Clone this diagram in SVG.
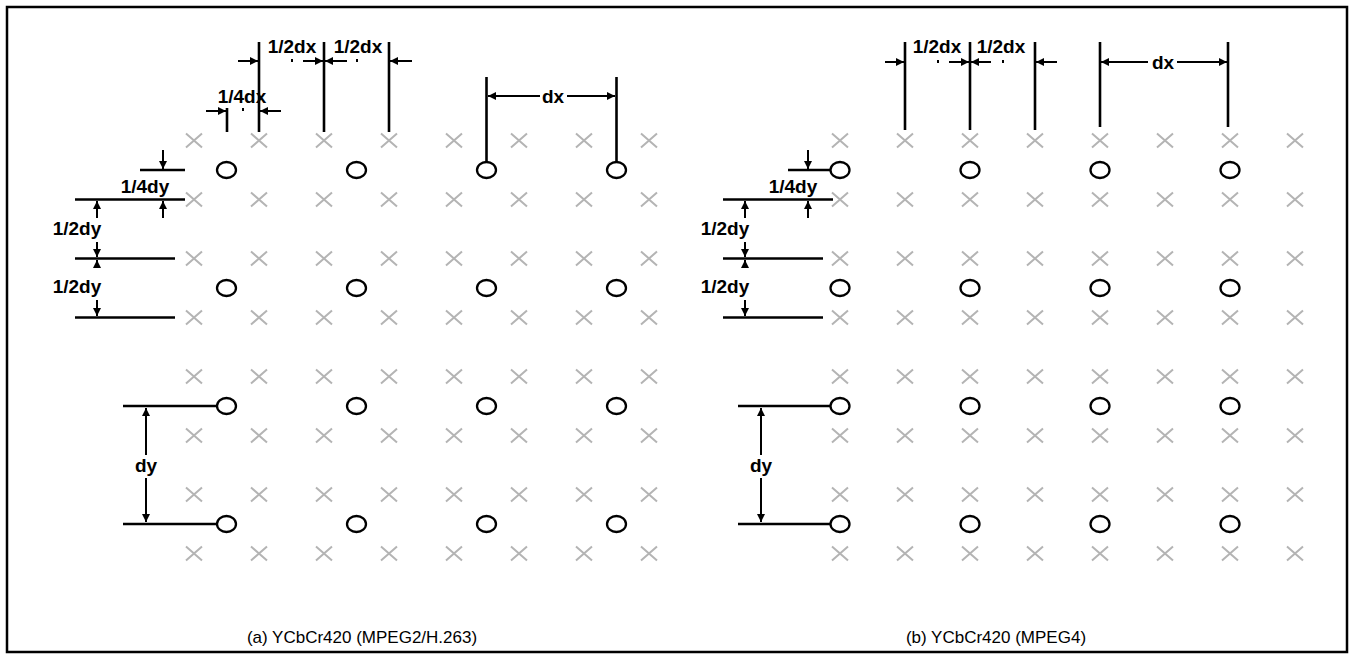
<svg xmlns="http://www.w3.org/2000/svg" width="1354" height="659" viewBox="0 0 1354 659">
<defs>
<style>
.frame{fill:none;stroke:#000;stroke-width:2.5}
.x{stroke:#b4b4b4;stroke-width:2;fill:none}
.o{fill:none;stroke:#000;stroke-width:2.3}
.dim{stroke:#000;stroke-width:2.6;fill:none}
.ar{stroke:#000;stroke-width:2;fill:none}
.lbl{font-family:"Liberation Sans",Arial,sans-serif;font-weight:bold;font-size:19px;fill:#000}
.cap{font-family:"Liberation Sans",Arial,sans-serif;font-size:17px;fill:#000}
</style>
<marker id="ah" viewBox="0 0 10 10" refX="10" refY="5" markerWidth="9" markerHeight="8" markerUnits="userSpaceOnUse" orient="auto">
<path d="M0,0 L10,5 L0,10 z" fill="#000"/>
</marker>
<path id="cx" d="M-8,-7 L8,7 M-8,7 L8,-7"/>
</defs>
<rect class="frame" x="7" y="7" width="1340" height="645"/>

<g id="grid-a">
<g class="x">
<use href="#cx" x="194" y="140.5"/><use href="#cx" x="259" y="140.5"/><use href="#cx" x="324" y="140.5"/><use href="#cx" x="389" y="140.5"/><use href="#cx" x="454" y="140.5"/><use href="#cx" x="519" y="140.5"/><use href="#cx" x="584" y="140.5"/><use href="#cx" x="649" y="140.5"/>
<use href="#cx" x="194" y="199.5"/><use href="#cx" x="259" y="199.5"/><use href="#cx" x="324" y="199.5"/><use href="#cx" x="389" y="199.5"/><use href="#cx" x="454" y="199.5"/><use href="#cx" x="519" y="199.5"/><use href="#cx" x="584" y="199.5"/><use href="#cx" x="649" y="199.5"/>
<use href="#cx" x="194" y="258.5"/><use href="#cx" x="259" y="258.5"/><use href="#cx" x="324" y="258.5"/><use href="#cx" x="389" y="258.5"/><use href="#cx" x="454" y="258.5"/><use href="#cx" x="519" y="258.5"/><use href="#cx" x="584" y="258.5"/><use href="#cx" x="649" y="258.5"/>
<use href="#cx" x="194" y="317.5"/><use href="#cx" x="259" y="317.5"/><use href="#cx" x="324" y="317.5"/><use href="#cx" x="389" y="317.5"/><use href="#cx" x="454" y="317.5"/><use href="#cx" x="519" y="317.5"/><use href="#cx" x="584" y="317.5"/><use href="#cx" x="649" y="317.5"/>
<use href="#cx" x="194" y="376.5"/><use href="#cx" x="259" y="376.5"/><use href="#cx" x="324" y="376.5"/><use href="#cx" x="389" y="376.5"/><use href="#cx" x="454" y="376.5"/><use href="#cx" x="519" y="376.5"/><use href="#cx" x="584" y="376.5"/><use href="#cx" x="649" y="376.5"/>
<use href="#cx" x="194" y="435.5"/><use href="#cx" x="259" y="435.5"/><use href="#cx" x="324" y="435.5"/><use href="#cx" x="389" y="435.5"/><use href="#cx" x="454" y="435.5"/><use href="#cx" x="519" y="435.5"/><use href="#cx" x="584" y="435.5"/><use href="#cx" x="649" y="435.5"/>
<use href="#cx" x="194" y="494.5"/><use href="#cx" x="259" y="494.5"/><use href="#cx" x="324" y="494.5"/><use href="#cx" x="389" y="494.5"/><use href="#cx" x="454" y="494.5"/><use href="#cx" x="519" y="494.5"/><use href="#cx" x="584" y="494.5"/><use href="#cx" x="649" y="494.5"/>
<use href="#cx" x="194" y="553.5"/><use href="#cx" x="259" y="553.5"/><use href="#cx" x="324" y="553.5"/><use href="#cx" x="389" y="553.5"/><use href="#cx" x="454" y="553.5"/><use href="#cx" x="519" y="553.5"/><use href="#cx" x="584" y="553.5"/><use href="#cx" x="649" y="553.5"/>
</g>
<g class="o">
<ellipse cx="226.5" cy="170" rx="9.5" ry="8"/><ellipse cx="356.5" cy="170" rx="9.5" ry="8"/><ellipse cx="486.5" cy="170" rx="9.5" ry="8"/><ellipse cx="616.5" cy="170" rx="9.5" ry="8"/>
<ellipse cx="226.5" cy="288" rx="9.5" ry="8"/><ellipse cx="356.5" cy="288" rx="9.5" ry="8"/><ellipse cx="486.5" cy="288" rx="9.5" ry="8"/><ellipse cx="616.5" cy="288" rx="9.5" ry="8"/>
<ellipse cx="226.5" cy="406" rx="9.5" ry="8"/><ellipse cx="356.5" cy="406" rx="9.5" ry="8"/><ellipse cx="486.5" cy="406" rx="9.5" ry="8"/><ellipse cx="616.5" cy="406" rx="9.5" ry="8"/>
<ellipse cx="226.5" cy="524" rx="9.5" ry="8"/><ellipse cx="356.5" cy="524" rx="9.5" ry="8"/><ellipse cx="486.5" cy="524" rx="9.5" ry="8"/><ellipse cx="616.5" cy="524" rx="9.5" ry="8"/>
</g>
</g>

<g id="grid-b">
<g class="x">
<use href="#cx" x="840" y="140.5"/><use href="#cx" x="905" y="140.5"/><use href="#cx" x="970" y="140.5"/><use href="#cx" x="1035" y="140.5"/><use href="#cx" x="1100" y="140.5"/><use href="#cx" x="1165" y="140.5"/><use href="#cx" x="1230" y="140.5"/><use href="#cx" x="1295" y="140.5"/>
<use href="#cx" x="840" y="199.5"/><use href="#cx" x="905" y="199.5"/><use href="#cx" x="970" y="199.5"/><use href="#cx" x="1035" y="199.5"/><use href="#cx" x="1100" y="199.5"/><use href="#cx" x="1165" y="199.5"/><use href="#cx" x="1230" y="199.5"/><use href="#cx" x="1295" y="199.5"/>
<use href="#cx" x="840" y="258.5"/><use href="#cx" x="905" y="258.5"/><use href="#cx" x="970" y="258.5"/><use href="#cx" x="1035" y="258.5"/><use href="#cx" x="1100" y="258.5"/><use href="#cx" x="1165" y="258.5"/><use href="#cx" x="1230" y="258.5"/><use href="#cx" x="1295" y="258.5"/>
<use href="#cx" x="840" y="317.5"/><use href="#cx" x="905" y="317.5"/><use href="#cx" x="970" y="317.5"/><use href="#cx" x="1035" y="317.5"/><use href="#cx" x="1100" y="317.5"/><use href="#cx" x="1165" y="317.5"/><use href="#cx" x="1230" y="317.5"/><use href="#cx" x="1295" y="317.5"/>
<use href="#cx" x="840" y="376.5"/><use href="#cx" x="905" y="376.5"/><use href="#cx" x="970" y="376.5"/><use href="#cx" x="1035" y="376.5"/><use href="#cx" x="1100" y="376.5"/><use href="#cx" x="1165" y="376.5"/><use href="#cx" x="1230" y="376.5"/><use href="#cx" x="1295" y="376.5"/>
<use href="#cx" x="840" y="435.5"/><use href="#cx" x="905" y="435.5"/><use href="#cx" x="970" y="435.5"/><use href="#cx" x="1035" y="435.5"/><use href="#cx" x="1100" y="435.5"/><use href="#cx" x="1165" y="435.5"/><use href="#cx" x="1230" y="435.5"/><use href="#cx" x="1295" y="435.5"/>
<use href="#cx" x="840" y="494.5"/><use href="#cx" x="905" y="494.5"/><use href="#cx" x="970" y="494.5"/><use href="#cx" x="1035" y="494.5"/><use href="#cx" x="1100" y="494.5"/><use href="#cx" x="1165" y="494.5"/><use href="#cx" x="1230" y="494.5"/><use href="#cx" x="1295" y="494.5"/>
<use href="#cx" x="840" y="553.5"/><use href="#cx" x="905" y="553.5"/><use href="#cx" x="970" y="553.5"/><use href="#cx" x="1035" y="553.5"/><use href="#cx" x="1100" y="553.5"/><use href="#cx" x="1165" y="553.5"/><use href="#cx" x="1230" y="553.5"/><use href="#cx" x="1295" y="553.5"/>
</g>
<g class="o">
<ellipse cx="840" cy="170" rx="9.5" ry="8"/><ellipse cx="970" cy="170" rx="9.5" ry="8"/><ellipse cx="1100" cy="170" rx="9.5" ry="8"/><ellipse cx="1230" cy="170" rx="9.5" ry="8"/>
<ellipse cx="840" cy="288" rx="9.5" ry="8"/><ellipse cx="970" cy="288" rx="9.5" ry="8"/><ellipse cx="1100" cy="288" rx="9.5" ry="8"/><ellipse cx="1230" cy="288" rx="9.5" ry="8"/>
<ellipse cx="840" cy="406" rx="9.5" ry="8"/><ellipse cx="970" cy="406" rx="9.5" ry="8"/><ellipse cx="1100" cy="406" rx="9.5" ry="8"/><ellipse cx="1230" cy="406" rx="9.5" ry="8"/>
<ellipse cx="840" cy="524" rx="9.5" ry="8"/><ellipse cx="970" cy="524" rx="9.5" ry="8"/><ellipse cx="1100" cy="524" rx="9.5" ry="8"/><ellipse cx="1230" cy="524" rx="9.5" ry="8"/>
</g>
</g>

<g id="connectors">
<g class="dim">
<line x1="227" y1="108" x2="227" y2="132"/>
<line x1="259" y1="42" x2="259" y2="132"/>
<line x1="324" y1="42" x2="324" y2="132"/>
<line x1="389" y1="42" x2="389" y2="132"/>
<line x1="486.5" y1="77" x2="486.5" y2="162"/>
<line x1="616.5" y1="77" x2="616.5" y2="162"/>
<line x1="140" y1="170" x2="185" y2="170"/>
<line x1="75" y1="199.5" x2="185" y2="199.5"/>
<line x1="75" y1="258.5" x2="175" y2="258.5"/>
<line x1="75" y1="317.5" x2="175" y2="317.5"/>
<line x1="123" y1="406" x2="217" y2="406"/>
<line x1="123" y1="524" x2="217" y2="524"/>
</g>
<g class="ar" marker-end="url(#ah)">
<line x1="238" y1="61" x2="258" y2="61"/>
<line x1="303" y1="61" x2="323" y2="61"/>
<line x1="347" y1="61" x2="325" y2="61"/>
<line x1="412" y1="61" x2="390" y2="61"/>
<line x1="206" y1="111" x2="226" y2="111"/>
<line x1="281" y1="111" x2="260" y2="111"/>
<line x1="540" y1="96" x2="488" y2="96"/>
<line x1="567" y1="96" x2="615" y2="96"/>
<line x1="163" y1="150" x2="163" y2="169"/>
<line x1="163" y1="218" x2="163" y2="201"/>
<line x1="97" y1="218" x2="97" y2="201"/>
<line x1="97" y1="242" x2="97" y2="257"/>
<line x1="97" y1="268" x2="97" y2="260"/>
<line x1="97" y1="300" x2="97" y2="316"/>
<line x1="146" y1="455" x2="146" y2="408"/>
<line x1="146" y1="478" x2="146" y2="522"/>
</g>
<g fill="#000">
<rect x="291" y="59" width="2" height="3"/>
<rect x="356" y="59" width="2" height="3"/>
<rect x="242" y="108" width="2" height="3"/>
<rect x="937" y="60" width="2" height="3"/>
<rect x="1002" y="60" width="2" height="3"/>
</g>
<g class="dim">
<line x1="905" y1="42" x2="905" y2="130"/>
<line x1="970" y1="42" x2="970" y2="130"/>
<line x1="1035" y1="42" x2="1035" y2="130"/>
<line x1="1100" y1="42" x2="1100" y2="127"/>
<line x1="1228" y1="42" x2="1228" y2="127"/>
<line x1="788" y1="170" x2="830" y2="170"/>
<line x1="723" y1="199.5" x2="833" y2="199.5"/>
<line x1="723" y1="258.5" x2="823" y2="258.5"/>
<line x1="723" y1="317.5" x2="823" y2="317.5"/>
<line x1="738" y1="406" x2="830" y2="406"/>
<line x1="738" y1="524" x2="830" y2="524"/>
</g>
<g class="ar" marker-end="url(#ah)">
<line x1="885" y1="62" x2="904" y2="62"/>
<line x1="949" y1="62" x2="969" y2="62"/>
<line x1="991" y1="62" x2="971" y2="62"/>
<line x1="1057" y1="62" x2="1036" y2="62"/>
<line x1="1148" y1="62" x2="1101" y2="62"/>
<line x1="1177" y1="62" x2="1227" y2="62"/>
<line x1="808" y1="150" x2="808" y2="169"/>
<line x1="808" y1="218" x2="808" y2="201"/>
<line x1="745" y1="218" x2="745" y2="201"/>
<line x1="745" y1="242" x2="745" y2="257"/>
<line x1="745" y1="268" x2="745" y2="260"/>
<line x1="745" y1="300" x2="745" y2="316"/>
<line x1="761" y1="455" x2="761" y2="408"/>
<line x1="761" y1="478" x2="761" y2="522"/>
</g>
</g>

<g id="labels-a">
<text class="lbl" x="292" y="53" text-anchor="middle">1/2dx</text>
<text class="lbl" x="358" y="53" text-anchor="middle">1/2dx</text>
<text class="lbl" x="242" y="103" text-anchor="middle">1/4dx</text>
<text class="lbl" x="553" y="103" text-anchor="middle">dx</text>
<text class="lbl" x="145" y="193" text-anchor="middle">1/4dy</text>
<text class="lbl" x="77" y="235" text-anchor="middle">1/2dy</text>
<text class="lbl" x="77" y="293" text-anchor="middle">1/2dy</text>
<text class="lbl" x="146" y="472" text-anchor="middle">dy</text>
<text class="cap" x="362" y="643" text-anchor="middle">(a) YCbCr420 (MPEG2/H.263)</text>
</g>
<g id="labels-b">
<text class="lbl" x="937" y="53" text-anchor="middle">1/2dx</text>
<text class="lbl" x="1001" y="53" text-anchor="middle">1/2dx</text>
<text class="lbl" x="1163" y="69" text-anchor="middle">dx</text>
<text class="lbl" x="793" y="193" text-anchor="middle">1/4dy</text>
<text class="lbl" x="725" y="235" text-anchor="middle">1/2dy</text>
<text class="lbl" x="725" y="293" text-anchor="middle">1/2dy</text>
<text class="lbl" x="761" y="472" text-anchor="middle">dy</text>
<text class="cap" x="996" y="643" text-anchor="middle">(b) YCbCr420 (MPEG4)</text>
</g>
</svg>
